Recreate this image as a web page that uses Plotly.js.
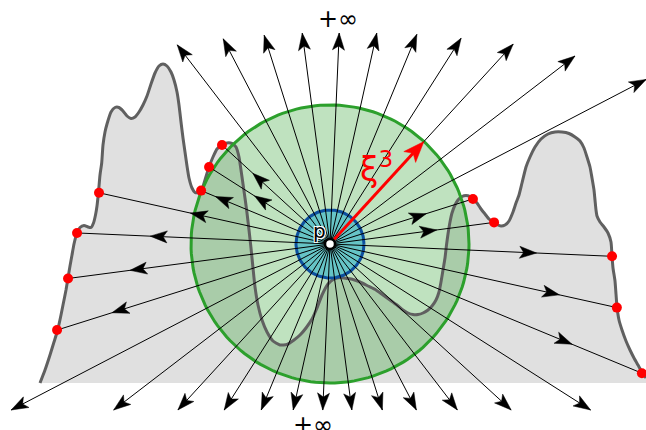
<!DOCTYPE html>
<html><head><meta charset="utf-8">
<script src="https://cdn.plot.ly/plotly-3.0.1.min.js"></script>
<style>html,body{margin:0;padding:0;background:#fff;} #chart{width:646px;height:430px;}</style>
</head><body><div id="chart"></div>
<script>
// ---- data (pixel-like coordinates, y downward) ----
const pointP = [330, 244];
const innerRadius = 34;
const outerRadius = 139;
const baseY = 383;
const curveX = [40,45,50,54,57.7,61,63,66,68,70,72,74,77,80,84,88,91,93.5,95.5,97,98.5,100,101.7,103,105,107,111,115,119,123,127,131,135,139,143,147,151,155,159,163,167,171,174,177,179,181,183,185,187,189,192,195,198.5,201.5,205,209,213,217,222,227,232,236,239,241,243,245,247,249,251,253,255,258,262,267,273,280,287,294,300,306,312,317,322,328,334,340,347,353,360,368,376,383,390,397,403,408,413,418,423,428,432,436,439,441,443,445,446.5,448,450,452,455,458,462,466,470,473,477,481,485,489,493,497,501,505,509,513,516,519,522,526,530,535,541,548,555,562,569,575,580,584,587,590,592,594,595,596,597,600,604,608,611,612,613,615,616,617,619,622,626,630,634,638,642,646];
const curveY = [383,370,355,342,330,315,305,290,278,266,255,244,233,227.5,225.5,227,227.5,223,215,206,192,175,163,145,132,124,112,107.5,107.5,111,116,118.5,117,112,105,96,84,73,66,64,66,72,80,92,105,122,138,152,166,178,188,192.5,192.5,190.5,180,167,157,149,145,143,143.5,147,157,170,184,198,213,230,248,268,287,305,320,332,341,345,344.5,340,335,328,319,308,295,284,279,277.5,278.5,279.5,282,286,290,295,300,305,310,313,314.5,314.5,313,310,306,300,292,282,270,258,245,234,222,213,205,200,196.5,195.5,196.5,199,203,209,214,219,222,224.5,226,225,221,212,203,195,183,167,157,147,139,134,132,132,133.5,137,141,148,157,167,178,190,200,210,216,222,227,233,242,256,268,281,294,307,320,330,341,350,358,365,372,378];
const rayAngles  = [7.5,17.5,27.5,37.5,47.5,57.5,67.5,77.5,87.5,97.5,107.5,117.5,127.5,137.5,147.5,157.5,167.5,177.5,187.5,197.5,207.5,217.5,227.5,237.5,247.5,257.5,267.5,277.5,287.5,297.5,307.5,317.5,327.5,337.5,347.5,357.5];
const rayLengths = [165.5,149.9,356.5,308.8,271.2,244,226.9,216,211.2,212.7,218.9,231.3,251,146.5,143.4,139.5,236.6,253.2,264.2,286.2,359.5,272.7,225.1,196.9,179.7,170,166.2,167.4,174.1,187.1,209.2,245.7,309,337.6,293.8,282.3];
const rayEnds    = ['dot','dot','inf','inf','inf','inf','inf','inf','inf','inf','inf','inf','inf','dot','dot','dot','dot','dot','dot','dot','inf','inf','inf','inf','inf','inf','inf','inf','inf','inf','inf','inf','inf','dot','dot','dot'];
const midArrowDist = [107.7,101,null,null,null,null,null,null,null,null,null,null,null,104.7,89.6,124,143,180,201.7,228.6,null,null,null,null,null,null,null,null,null,null,null,null,null,262,235,206.8];
const xiAngle = 47.5;
const xiLength = 139;
const labelP = 'p';
const labelInf = '+∞';
const labelXi = 'ξ<sup>3</sup>';

// ---- helpers ----
const rad = d => d * Math.PI / 180;
const at = (ang, r) => [pointP[0] + r * Math.cos(rad(ang)), pointP[1] - r * Math.sin(rad(ang))];
function circle(r) {
  const xs = [], ys = [];
  for (let i = 0; i <= 180; i++) { const p = at(i * 2, r); xs.push(p[0]); ys.push(p[1]); }
  return [xs, ys];
}
// arrowhead polygon (tip at distance r along angle), style: length, half width, notch
function headPoly(ang, r, len, hw, notch, xs, ys) {
  const c = Math.cos(rad(ang)), s = -Math.sin(rad(ang));
  const nx = -s, ny = c;
  const tip = at(ang, r);
  const bx = tip[0] - len * c, by = tip[1] - len * s;
  const mx = tip[0] - (len - notch) * c, my = tip[1] - (len - notch) * s;
  xs.push(tip[0], bx + hw * nx, mx, bx - hw * nx, tip[0], null);
  ys.push(tip[1], by + hw * ny, my, by - hw * ny, tip[1], null);
}

const traces = [];
traces.push({x: curveX.concat([646, curveX[0]]), y: curveY.concat([baseY, baseY]),
  mode: 'lines', fill: 'toself', fillcolor: '#e0e0e0', line: {width: 0, color: 'rgba(0,0,0,0)'}, hoverinfo: 'skip'});
const gc = circle(outerRadius);
traces.push({x: gc[0], y: gc[1], mode: 'lines', fill: 'toself', fillcolor: 'rgba(44,160,44,0.3)',
  line: {color: 'rgba(0,0,0,0)', width: 0}, hoverinfo: 'skip'});
traces.push({x: curveX, y: curveY, mode: 'lines', line: {color: '#606060', width: 3, shape: 'spline', smoothing: 0.5}, hoverinfo: 'skip'});
traces.push({x: gc[0], y: gc[1], mode: 'lines', line: {color: '#2ca02c', width: 3}, hoverinfo: 'skip'});
const bc = circle(innerRadius);
traces.push({x: bc[0], y: bc[1], mode: 'lines', fill: 'toself', fillcolor: '#66c4c6',
  line: {color: '#0d4f9e', width: 3}, hoverinfo: 'skip'});
// rays
const rx = [], ry = [];
rayAngles.forEach((a, i) => { const e = at(a, rayLengths[i]); rx.push(pointP[0], e[0], null); ry.push(pointP[1], e[1], null); });
traces.push({x: rx, y: ry, mode: 'lines', line: {color: '#000', width: 1}, hoverinfo: 'skip'});
// arrowheads
const hx = [], hy = [];
rayAngles.forEach((a, i) => {
  const r = rayEnds[i] === 'inf' ? rayLengths[i] : midArrowDist[i];
  headPoly(a, r, 17, 6, 4, hx, hy);
});
traces.push({x: hx, y: hy, mode: 'lines', fill: 'toself', fillcolor: '#000', line: {color: '#000', width: 0.5}, hoverinfo: 'skip'});
// red dots
const dx = [], dy = [];
rayAngles.forEach((a, i) => { if (rayEnds[i] === 'dot') { const e = at(a, rayLengths[i]); dx.push(e[0]); dy.push(e[1]); } });
traces.push({x: dx, y: dy, mode: 'markers', marker: {color: '#ff0000', size: 10, line: {width: 0}}, hoverinfo: 'skip'});
// red xi arrow
const xs0 = at(xiAngle, 6), xs1 = at(xiAngle, xiLength - 14);
traces.push({x: [xs0[0], xs1[0]], y: [xs0[1], xs1[1]], mode: 'lines', line: {color: '#ff0000', width: 3}, hoverinfo: 'skip'});
const rhx = [], rhy = [];
headPoly(xiAngle, xiLength, 21, 8, 5, rhx, rhy);
traces.push({x: rhx, y: rhy, mode: 'lines', fill: 'toself', fillcolor: '#ff0000', line: {color: '#ff0000', width: 0.5}, hoverinfo: 'skip'});
// point p
traces.push({x: [pointP[0]], y: [pointP[1]], mode: 'markers', marker: {color: '#fff', size: 10, line: {color: '#000', width: 2.5}}, hoverinfo: 'skip'});

const ann = [];
ann.push({x: 376, y: 167, xref: 'x', yref: 'y', text: labelXi, showarrow: false,
  font: {family: 'DejaVu Sans', size: 33, color: '#ff0000'}});
ann.push({x: 338, y: 19, xref: 'x', yref: 'y', text: labelInf, showarrow: false,
  font: {family: 'DejaVu Sans', size: 24, color: '#000'}});
ann.push({x: 313, y: 425, xref: 'x', yref: 'y', text: labelInf, showarrow: false,
  font: {family: 'DejaVu Sans', size: 24, color: '#000'}});
ann.push({x: 319, y: 231, xref: 'x', yref: 'y', text: labelP, showarrow: false,
  font: {family: 'DejaVu Sans', size: 20, color: '#000',
    shadow: '-1px -1px 0 #fff, 1px -1px 0 #fff, -1px 1px 0 #fff, 1px 1px 0 #fff'}});

const layout = {
  width: 646, height: 430, margin: {l: 0, r: 0, t: 0, b: 0, pad: 0},
  paper_bgcolor: '#fff', plot_bgcolor: '#fff', showlegend: false,
  xaxis: {range: [0, 646], visible: false, fixedrange: true},
  yaxis: {range: [430, 0], visible: false, fixedrange: true},
  annotations: ann
};
Plotly.newPlot('chart', traces, layout, {staticPlot: true, displayModeBar: false});
</script></body></html>
